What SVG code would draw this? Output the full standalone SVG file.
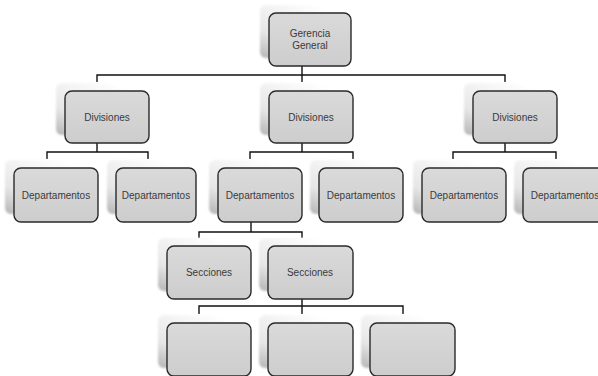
<svg xmlns="http://www.w3.org/2000/svg" width="598" height="376" viewBox="0 0 598 376">
  <defs>
    <linearGradient id="cardFade" x1="0" y1="1" x2="0.7" y2="0">
      <stop offset="0" stop-color="#b4b4b4"/>
      <stop offset="0.35" stop-color="#e6e6e6"/>
      <stop offset="1" stop-color="#ffffff"/>
    </linearGradient>
    <linearGradient id="boxFill" x1="0" y1="0" x2="0" y2="1">
      <stop offset="0" stop-color="#dadada"/>
      <stop offset="1" stop-color="#cdcdcd"/>
    </linearGradient>
    <filter id="soft" x="-10%" y="-10%" width="120%" height="120%">
      <feGaussianBlur stdDeviation="1.2"/>
    </filter>
  </defs>
  <style>
    .card { fill: url(#cardFade); filter: url(#soft); }
    .box { fill: url(#boxFill); stroke: #2a2a2a; stroke-width: 1.4; }
    .lbl { font-family: "Liberation Sans", Arial, sans-serif; font-size: 10px; fill: #3a3a3a; text-anchor: middle; }
    .wire { fill: none; stroke: #111; stroke-width: 1.4; }
  </style>
  <rect width="598" height="376" fill="#ffffff"/>

  <!-- connectors -->
  <g id="connectors">
    <path class="wire" d="M302 66V82 M97 82V75H505V82"/>
    <path class="wire" d="M97 143V152 M47 159V152H148V159"/>
    <path class="wire" d="M302 143V152 M250 159V152H353V159"/>
    <path class="wire" d="M505 143V152 M453 159V152H556V159"/>
    <path class="wire" d="M251 222V232 M199 238V232H302V238"/>
    <path class="wire" d="M302 299V306 M199 314V306H403V314 M302 306V314"/>
  </g>

  <!-- level 0 -->
  <g id="gerencia">
    <rect class="card" x="260" y="5" width="82" height="53" rx="6"/>
    <rect class="box" x="269" y="13" width="82" height="53" rx="7"/>
    <text class="lbl" x="310" y="37">Gerencia</text>
    <text class="lbl" x="310" y="49">General</text>
  </g>

  <!-- level 1 -->
  <g id="div-left">
    <rect class="card" x="56" y="83" width="84" height="52" rx="6"/>
    <rect class="box" x="65" y="91" width="84" height="52" rx="7"/>
    <text class="lbl" x="107" y="121">Divisiones</text>
  </g>
  <g id="div-mid">
    <rect class="card" x="260" y="83" width="84" height="52" rx="6"/>
    <rect class="box" x="269" y="91" width="84" height="52" rx="7"/>
    <text class="lbl" x="311" y="121">Divisiones</text>
  </g>
  <g id="div-right">
    <rect class="card" x="464" y="83" width="84" height="52" rx="6"/>
    <rect class="box" x="473" y="91" width="84" height="52" rx="7"/>
    <text class="lbl" x="515" y="121">Divisiones</text>
  </g>

  <!-- level 2 -->
  <g id="dep-1">
    <rect class="card" x="5" y="160" width="84" height="54" rx="6"/>
    <rect class="box" x="14" y="168" width="84" height="54" rx="7"/>
    <text class="lbl" x="56" y="199">Departamentos</text>
  </g>
  <g id="dep-2">
    <rect class="card" x="107" y="160" width="80" height="54" rx="6"/>
    <rect class="box" x="116" y="168" width="80" height="54" rx="7"/>
    <text class="lbl" x="156" y="199">Departamentos</text>
  </g>
  <g id="dep-3">
    <rect class="card" x="209" y="160" width="84" height="54" rx="6"/>
    <rect class="box" x="218" y="168" width="84" height="54" rx="7"/>
    <text class="lbl" x="260" y="199">Departamentos</text>
  </g>
  <g id="dep-4">
    <rect class="card" x="310" y="160" width="84" height="54" rx="6"/>
    <rect class="box" x="319" y="168" width="84" height="54" rx="7"/>
    <text class="lbl" x="361" y="199">Departamentos</text>
  </g>
  <g id="dep-5">
    <rect class="card" x="413" y="160" width="84" height="54" rx="6"/>
    <rect class="box" x="422" y="168" width="84" height="54" rx="7"/>
    <text class="lbl" x="464" y="199">Departamentos</text>
  </g>
  <g id="dep-6">
    <rect class="card" x="514" y="160" width="84" height="54" rx="6"/>
    <rect class="box" x="523" y="168" width="84" height="54" rx="7"/>
    <text class="lbl" x="565" y="199">Departamentos</text>
  </g>

  <!-- level 3 -->
  <g id="sec-1">
    <rect class="card" x="158" y="238" width="84" height="53" rx="6"/>
    <rect class="box" x="167" y="246" width="84" height="53" rx="7"/>
    <text class="lbl" x="209" y="276">Secciones</text>
  </g>
  <g id="sec-2">
    <rect class="card" x="259" y="238" width="85" height="53" rx="6"/>
    <rect class="box" x="268" y="246" width="85" height="53" rx="7"/>
    <text class="lbl" x="310" y="276">Secciones</text>
  </g>

  <!-- level 4 -->
  <g id="sub-1">
    <rect class="card" x="158" y="315" width="84" height="53" rx="6"/>
    <rect class="box" x="167" y="323" width="84" height="53" rx="7"/>
  </g>
  <g id="sub-2">
    <rect class="card" x="259" y="315" width="85" height="53" rx="6"/>
    <rect class="box" x="268" y="323" width="85" height="53" rx="7"/>
  </g>
  <g id="sub-3">
    <rect class="card" x="361" y="315" width="85" height="53" rx="6"/>
    <rect class="box" x="370" y="323" width="85" height="53" rx="7"/>
  </g>
</svg>
